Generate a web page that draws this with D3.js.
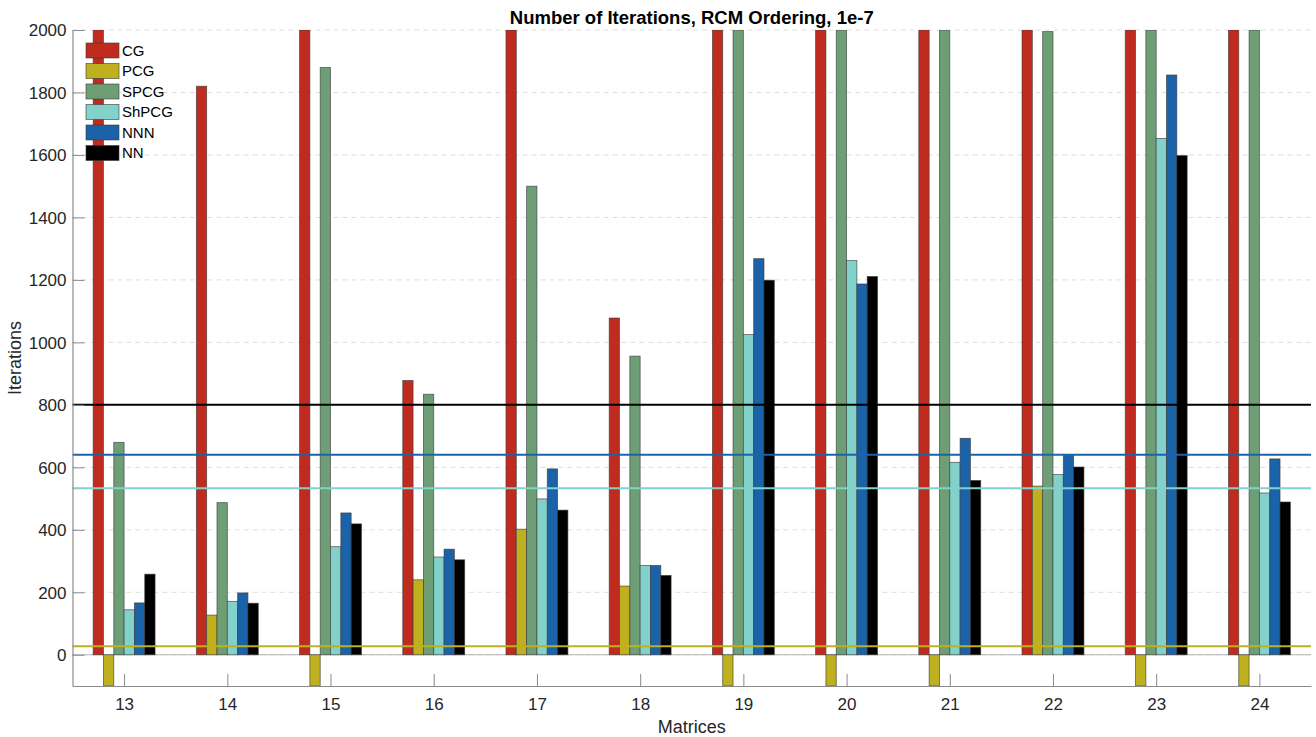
<!DOCTYPE html>
<html>
<head>
<meta charset="utf-8">
<script src="https://cdn.jsdelivr.net/npm/d3@7"></script>
<style>
  html, body { margin: 0; padding: 0; background: #fff; }
  svg { display: block; font-family: "Liberation Sans", Arial, Helvetica, sans-serif; }
</style>
</head>
<body>
<svg id="chart" width="1316" height="737"></svg>
<script>
// Matrix ids on the x axis
const categories = [13, 14, 15, 16, 17, 18, 19, 20, 21, 22, 23, 24];

// Solver names and colours
const seriesNames = ["CG", "PCG", "SPCG", "ShPCG", "NNN", "NN"];
const seriesColors = ["#BF2C1F", "#BFB020", "#6E9E75", "#82D1CB", "#1B63A8", "#000000"];

// Iteration counts per solver (2000 = reached the top of the axis, -100 = failed run)
const cgValues    = [2000, 1820, 2000, 878, 2000, 1078, 2000, 2000, 2000, 2000, 2000, 2000];
const pcgValues   = [-100, 127, -100, 240, 402, 220, -100, -100, -100, 540, -100, -100];
const spcgValues  = [680, 487, 1880, 834, 1500, 956, 2000, 2000, 2000, 1995, 2000, 2000];
const shpcgValues = [144, 171, 346, 313, 499, 286, 1025, 1262, 616, 577, 1653, 518];
const nnnValues   = [166, 198, 454, 338, 595, 286, 1268, 1187, 693, 638, 1856, 627];
const nnValues    = [258, 165, 419, 304, 463, 254, 1199, 1211, 558, 601, 1598, 489];

// Horizontal reference levels
const refNames  = ["PCG", "ShPCG", "NNN", "NN"];
const refValues = [27, 533, 640, 800];

// Axis ticks
const yTicks = [0, 200, 400, 600, 800, 1000, 1200, 1400, 1600, 1800, 2000];
const yDomain = [-100, 2000];

const seriesValues = [cgValues, pcgValues, spcgValues, shpcgValues, nnnValues, nnValues];

const svg = d3.select("#chart");
const plotLeft = 72.5, plotRight = 1311, plotTop = 30, plotBottom = 686;

const x = d3.scaleLinear().domain([categories[0] - 0.5, categories[categories.length - 1] + 0.5]).range([plotLeft, plotRight]);
const y = d3.scaleLinear().domain(yDomain).range([plotBottom, plotTop]);
const color = d3.scaleOrdinal().domain(seriesNames).range(seriesColors);

// Position of each bar inside a group
const groupWidth = 0.6;
const slot = d3.scaleBand().domain(seriesNames).range([-groupWidth / 2, groupWidth / 2]).padding(0);

svg.append("defs").append("clipPath").attr("id", "plotClip")
  .append("rect").attr("x", plotLeft).attr("y", plotTop).attr("width", plotRight - plotLeft).attr("height", plotBottom - plotTop);

// Dashed horizontal grid
svg.append("g").selectAll("line").data(yTicks).join("line")
  .attr("x1", plotLeft).attr("x2", plotRight)
  .attr("y1", d => y(d)).attr("y2", d => y(d))
  .attr("stroke", "#dedede").attr("stroke-width", 1).attr("stroke-dasharray", "5,4");

// Zero baseline
svg.append("line")
  .attr("x1", plotLeft).attr("x2", plotRight).attr("y1", y(0)).attr("y2", y(0))
  .attr("stroke", "#b4b4b4").attr("stroke-width", 1.2);

// Bars
const rows = [];
seriesNames.forEach((name, si) => {
  seriesValues[si].forEach((v, ci) => rows.push({ name, cat: categories[ci], value: v }));
});

const bw = x(slot.bandwidth()) - x(0);
svg.append("g").attr("clip-path", "url(#plotClip)")
  .selectAll("rect").data(rows).join("rect")
  .attr("x", d => x(d.cat + slot(d.name)))
  .attr("width", bw)
  .attr("y", d => y(Math.max(0, d.value)))
  .attr("height", d => Math.abs(y(d.value) - y(0)))
  .attr("fill", d => color(d.name))
  .attr("stroke", "#3a3a3a").attr("stroke-opacity", 0.75).attr("stroke-width", 0.8);

// Reference lines
svg.append("g").selectAll("line").data(refValues).join("line")
  .attr("x1", plotLeft).attr("x2", plotRight)
  .attr("y1", d => y(d)).attr("y2", d => y(d))
  .attr("stroke", (d, i) => color(refNames[i])).attr("stroke-width", 2);

// Axes
const axisColor = "#8a8a8a";
const textColor = "#262626";
const yAxis = svg.append("g").attr("transform", `translate(${plotLeft},0)`)
  .call(d3.axisLeft(y).tickValues(yTicks).tickFormat(d3.format("d")).tickSizeInner(-12).tickSizeOuter(0).tickPadding(6));
const xAxis = svg.append("g").attr("transform", `translate(0,${plotBottom})`)
  .call(d3.axisBottom(x).tickValues(categories).tickFormat(d3.format("d")).tickSizeInner(-12).tickSizeOuter(0).tickPadding(8));

[yAxis, xAxis].forEach(a => {
  a.select(".domain").attr("stroke", axisColor).attr("stroke-width", 1.2);
  a.selectAll(".tick line").attr("stroke", axisColor).attr("stroke-width", 1);
  a.selectAll(".tick text").attr("fill", textColor).attr("font-size", 17)
    .attr("font-family", '"Liberation Sans", Arial, sans-serif');
});
yAxis.selectAll(".tick text").attr("x", -6).attr("dy", "0.35em");
xAxis.selectAll(".tick text").attr("y", 9).attr("dy", "0.9em");

// Title and axis labels
svg.append("text").attr("x", (plotLeft + plotRight) / 2).attr("y", 24)
  .attr("text-anchor", "middle").attr("font-weight", "bold").attr("font-size", 18.5).attr("fill", "#000")
  .text("Number of Iterations, RCM Ordering, 1e-7");

svg.append("text").attr("x", (plotLeft + plotRight) / 2).attr("y", 733)
  .attr("text-anchor", "middle").attr("font-size", 18).attr("fill", textColor)
  .text("Matrices");

svg.append("text").attr("transform", `translate(21,${(plotTop + plotBottom) / 2}) rotate(-90)`)
  .attr("text-anchor", "middle").attr("font-size", 18).attr("fill", textColor)
  .text("Iterations");

// Legend
const legend = svg.append("g").attr("transform", "translate(86,43)");
const item = legend.selectAll("g").data(seriesNames).join("g")
  .attr("transform", (d, i) => `translate(0,${i * 20.5})`);
item.append("rect").attr("width", 33).attr("height", 15)
  .attr("fill", d => color(d)).attr("stroke", "#3a3a3a").attr("stroke-opacity", 0.75).attr("stroke-width", 0.8);
item.append("text").attr("x", 36).attr("y", 7.5).attr("dy", "0.36em")
  .attr("font-size", 15).attr("fill", "#000").text(d => d);
</script>
</body>
</html>
